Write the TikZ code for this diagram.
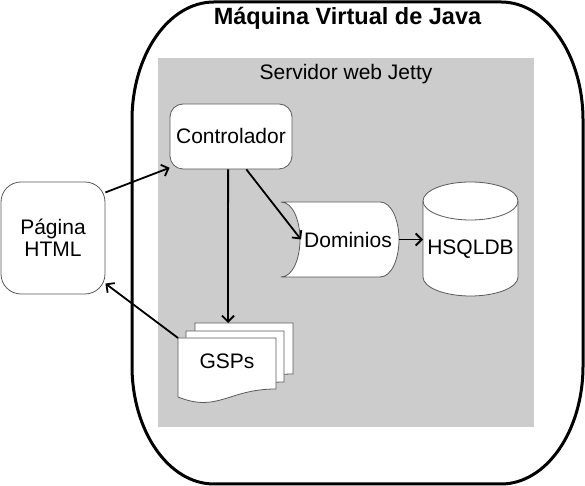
\documentclass[tikz,border=0pt]{standalone}
\usepackage{fontspec}
\setmainfont{Liberation Sans}
\usetikzlibrary{arrows.meta}
\def\hoja{-- ++(98,0) -- ++(0,-51) .. controls +(-48,0) and +(40,-16) .. ++(-98,-8) -- cycle}
\tikzset{
  esquina/.style={x radius=82pt, y radius=118pt},
  forma/.style={draw=black!65, fill=white, line width=0.8pt},
  etiqueta/.style={font=\fontsize{21}{22}\selectfont, align=center},
  flecha/.style={-{Straight Barb[length=6pt,width=12pt]}, line width=1.8pt}
}

\begin{document}
\begin{tikzpicture}[x=1pt,y=1pt]
\useasboundingbox (0,0) rectangle (585,486);
\draw[line width=3pt] (214,484) -- (501,484) arc[start angle=90, end angle=0, esquina]
  -- (583,120) arc[start angle=0, end angle=-90, esquina]
  -- (214,2) arc[start angle=270, end angle=180, esquina]
  -- (132,366) arc[start angle=180, end angle=90, esquina] -- cycle;
\fill[black!20] (158,59) rectangle (534,428);

\node[etiqueta, font=\fontsize{23.5}{26}\selectfont\bfseries, anchor=base] (jvm) at (347.5,461) {Máquina Virtual de Java};
\node[etiqueta, anchor=base] (jetty) at (346,406) {Servidor web Jetty};

\node[forma, etiqueta, rounded corners=20pt, minimum width=104pt, minimum height=112pt] (html) at (53,248) {Página\\HTML};
\node[forma, etiqueta, rounded corners=13pt, minimum width=122pt, minimum height=65pt, inner sep=0pt] (ctrl) at (231,349.5) {Controlador};

\filldraw[forma] (281,284) -- (380,284) .. controls (392,284) and (399,265) .. (399,246.5)
  .. controls (399,228) and (392,209) .. (380,209) -- (281,209)
  .. controls (293,209) and (300,228) .. (300,246.5) .. controls (300,265) and (293,284) .. (281,284) -- cycle;
\coordinate (dom-in) at (301,246.5);
\coordinate (dom-out) at (399,246.5);
\node[etiqueta] (dom) at (348,246.5) {Dominios};

\filldraw[forma] (423,285) -- (423,209) arc[start angle=180, end angle=360, x radius=47.5pt, y radius=19pt]
  -- (518,285) arc[start angle=0, end angle=180, x radius=47.5pt, y radius=19pt] -- cycle;
\draw[forma, fill=none] (423,285) arc[start angle=180, end angle=360, x radius=47.5pt, y radius=19pt];
\coordinate (db-in) at (423,246.5);
\node[etiqueta] (db) at (470.5,237) {HSQLDB};

\foreach \dx/\dy in {17/15, 8/7, 0/0}{
  \filldraw[forma] (178+\dx,148+\dy) \hoja;
}
\coordinate (gsp-arriba) at (228,163);
\coordinate (gsp-esq) at (178,148);
\node[etiqueta] (gsp) at (227,125) {GSPs};

\draw[flecha] (html.41) -- (ctrl.207);
\draw[flecha] (ctrl.-95) -- (gsp-arriba);
\draw[flecha] (ctrl.-65) -- (dom-in);
\draw[flecha] (dom-out) -- (db-in);
\draw[flecha] (gsp-esq) -- (html.-41);
\end{tikzpicture}
\end{document}
